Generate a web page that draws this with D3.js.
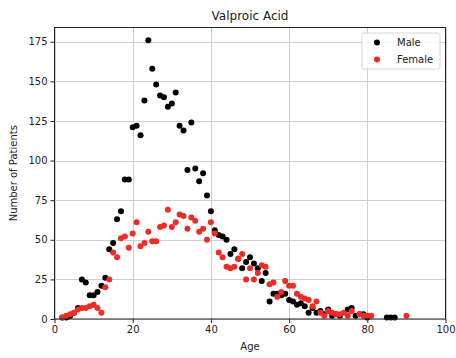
<!DOCTYPE html>
<html>
<head>
<meta charset="utf-8">
<script src="https://cdn.jsdelivr.net/npm/d3@7"></script>
<style>
  html, body { margin: 0; padding: 0; background: #fff; }
  svg { display: block; font-family: "DejaVu Sans", sans-serif; }
</style>
</head>
<body>
<svg id="chart" width="456" height="358"></svg>
<script>
// Patients per age, by sex
const maleAges = [2,3,4,5,6,7,8,9,10,11,12,13,14,15,16,17,18,19,20,21,22,23,24,25,26,27,28,29,30,31,32,33,34,35,36,37,38,39,40,41,42,43,44,45,46,47,48,49,50,51,52,53,54,55,56,57,58,59,60,61,62,63,64,65,66,67,68,69,70,71,72,73,75,76,77,78,79,80,85,86,87];
const maleCounts = [1,1,2,4,7,25,23,15,15,17,21,26,44,48,63,68,88,88,121,122,116,138,176,158,148,141,140,134,136,143,122,119,94,124,95,87,92,78,68,56,53,52,50,41,44,38,32,36,39,35,32,24,29,11,16,16,15,16,12,11,9,10,8,4,7,4,5,3,6,2,3,2,6,7,2,3,3,1,1,1,1];

const femaleAges = [2,3,4,5,6,7,8,9,10,11,12,13,14,15,16,17,18,19,20,21,22,23,24,25,26,27,28,29,30,31,32,33,34,35,36,37,38,39,40,41,42,43,44,45,46,47,48,49,50,51,52,53,54,55,56,57,58,59,60,61,62,63,64,65,66,67,68,69,70,71,72,73,74,75,76,78,79,80,81,90];
const femaleCounts = [1,2,3,4,6,7,7,8,9,7,4,20,25,42,39,51,52,45,54,61,46,48,55,49,49,58,59,69,58,61,66,65,57,64,62,55,57,50,61,54,42,39,33,32,33,38,41,25,32,25,29,34,33,22,23,14,17,24,21,21,16,14,13,12,8,11,4,2,5,4,3,3,4,2,5,3,2,2,2,2];

const xTicks = [0,20,40,60,80,100];
const yTicks = [0,25,50,75,100,125,150,175];

const svg = d3.select("#chart");
const plotL = 54.5, plotR = 445.5, plotT = 27.5, plotB = 319;

const x = d3.scaleLinear().domain([0, 100]).range([plotL, plotR]);
const y = d3.scaleLinear().domain([0, 184]).range([plotB, plotT]);

// grid
svg.append("g").selectAll("line").data(xTicks).join("line")
  .attr("x1", d => Math.round(x(d)) + 0.5).attr("x2", d => Math.round(x(d)) + 0.5)
  .attr("y1", plotT).attr("y2", plotB)
  .attr("stroke", "#cfcfcf").attr("stroke-width", 1);
svg.append("g").selectAll("line").data(yTicks).join("line")
  .attr("x1", plotL).attr("x2", plotR)
  .attr("y1", d => Math.round(y(d)) + 0.5).attr("y2", d => Math.round(y(d)) + 0.5)
  .attr("stroke", "#cfcfcf").attr("stroke-width", 1);

// points
const male = maleAges.map((a, i) => ({age: a, n: maleCounts[i]}));
const female = femaleAges.map((a, i) => ({age: a, n: femaleCounts[i]}));

svg.append("g").selectAll("circle").data(male).join("circle")
  .attr("cx", d => x(d.age)).attr("cy", d => y(d.n)).attr("r", 3)
  .attr("fill", "#000");
svg.append("g").selectAll("circle").data(female).join("circle")
  .attr("cx", d => x(d.age)).attr("cy", d => y(d.n)).attr("r", 3)
  .attr("fill", "#ee2b25");

// axes
const xAxis = svg.append("g").attr("transform", `translate(0,${plotB})`)
  .call(d3.axisBottom(x).tickValues(xTicks).tickSize(4).tickPadding(3));
const yAxis = svg.append("g").attr("transform", `translate(${plotL},0)`)
  .call(d3.axisLeft(y).tickValues(yTicks).tickSize(4).tickPadding(3));
[xAxis, yAxis].forEach(g => {
  g.select(".domain").remove();
  g.selectAll("text").attr("font-size", 10).attr("fill", "#222").attr("font-family", "DejaVu Sans");
  g.selectAll("line").attr("stroke", "#222");
});

// frame
svg.append("rect").attr("x", plotL).attr("y", plotT)
  .attr("width", plotR - plotL).attr("height", plotB - plotT)
  .attr("fill", "none").attr("stroke", "#222").attr("stroke-width", 1);

// titles
svg.append("text").attr("x", (plotL + plotR) / 2).attr("y", 20)
  .attr("text-anchor", "middle").attr("font-size", 12).attr("fill", "#222")
  .text("Valproic Acid");
svg.append("text").attr("x", (plotL + plotR) / 2).attr("y", 350)
  .attr("text-anchor", "middle").attr("font-size", 10).attr("fill", "#222")
  .text("Age");
svg.append("text").attr("transform", `translate(17,${(plotT + plotB) / 2}) rotate(-90)`)
  .attr("text-anchor", "middle").attr("font-size", 10).attr("fill", "#222")
  .text("Number of Patients");

// legend
const legend = svg.append("g");
legend.append("rect").attr("x", 362).attr("y", 33).attr("width", 78).attr("height", 36)
  .attr("rx", 2).attr("fill", "#fff").attr("fill-opacity", 0.85)
  .attr("stroke", "#d8d8d8");
const items = [{label: "Male", color: "#000"}, {label: "Female", color: "#ee2b25"}];
items.forEach((it, i) => {
  legend.append("circle").attr("cx", 377).attr("cy", 42.5 + i * 17).attr("r", 3).attr("fill", it.color);
  legend.append("text").attr("x", 397).attr("y", 46 + i * 17)
    .attr("font-size", 10).attr("fill", "#222").text(it.label);
});
</script>
</body>
</html>
